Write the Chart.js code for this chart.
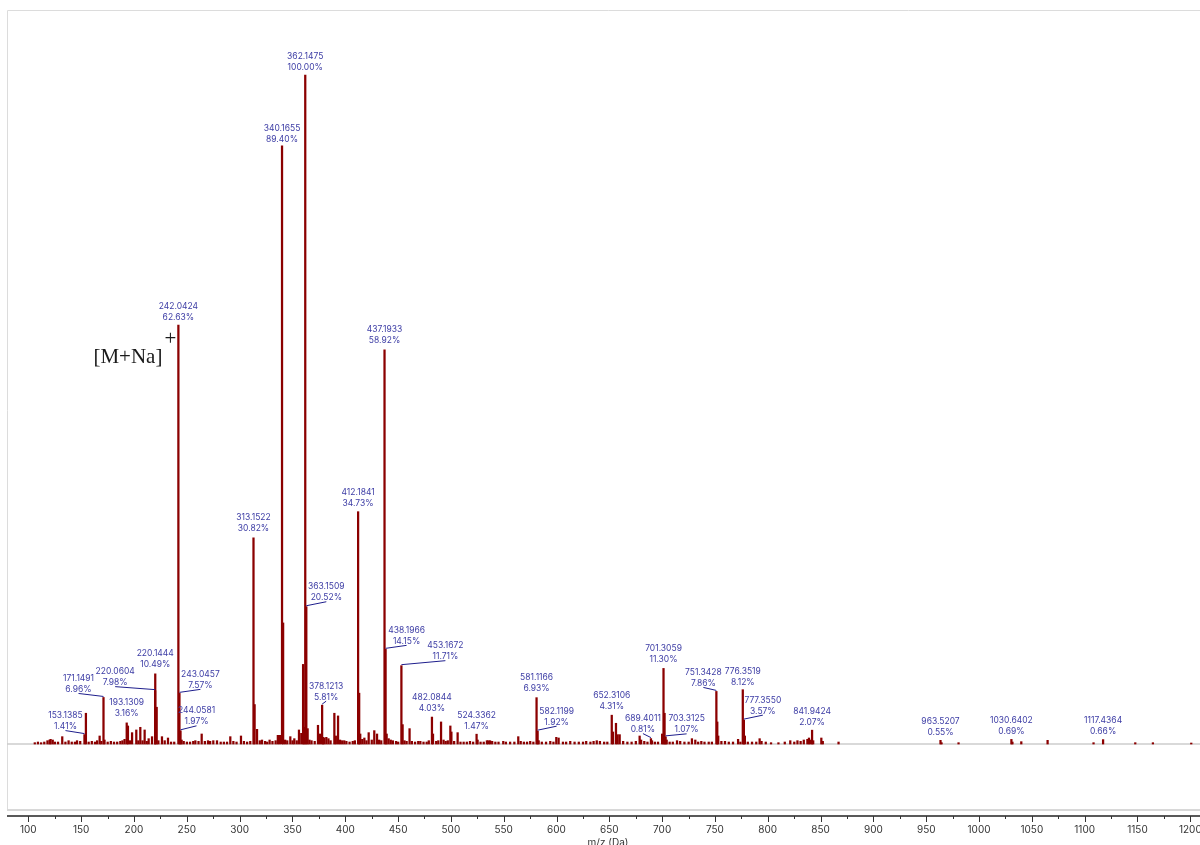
<!DOCTYPE html>
<html>
<head>
<meta charset="utf-8">
<title>Mass spectrum</title>
<script src="https://cdn.jsdelivr.net/npm/chart.js@4.4.1/dist/chart.umd.min.js"></script>
<style>
  html, body { margin: 0; padding: 0; background: #fff; overflow: hidden; }
  canvas { display: block; }
</style>
</head>
<body>
<canvas id="spectrum" width="1216" height="845"></canvas>
<script>
// labelled peaks: m/z and relative intensity (%)
const peakMz = [153.1385, 171.1491, 193.1309, 220.0604, 220.1444, 242.0424, 243.0457, 244.0581,
    313.1522, 340.1655, 362.1475, 363.1509, 378.1213, 412.1841, 437.1933, 438.1966,
    453.1672, 482.0844, 524.3362, 581.1166, 582.1199, 652.3106, 689.4011, 701.3059,
    703.3125, 751.3428, 776.3519, 777.3550, 841.9424, 963.5207, 1030.6402, 1117.4364];
const peakPct = [1.41, 6.96, 3.16, 7.98, 10.49, 62.63, 7.57, 1.97,
    30.82, 89.40, 100.00, 20.52, 5.81, 34.73, 58.92, 14.15,
    11.71, 4.03, 1.47, 6.93, 1.92, 4.31, 0.81, 11.30,
    1.07, 7.86, 8.12, 3.57, 2.07, 0.55, 0.69, 0.66];

// unlabelled peaks
const minorMz = [106.1, 109.1, 112.1, 115.1, 118.1, 120.1, 121.1, 123.1, 125.1, 128.1, 132.1, 135.1,
    138.1, 141.1, 144.1, 146.1, 149.1, 154.5, 157.1, 160.1, 163.1, 165.1, 167.5, 169.1,
    172.1, 175.1, 178.1, 181.1, 184.1, 187.1, 189.1, 191.1, 194.3, 196.1, 198.2, 202.2,
    204.1, 206.0, 208.1, 210.1, 212.1, 213.9, 217.1, 221.5, 223.1, 226.5, 229.1, 232.2,
    235.1, 238.1, 245.1, 247.1, 250.1, 253.1, 256.1, 258.1, 261.1, 264.1, 267.1, 270.1,
    272.1, 275.1, 278.6, 282.1, 285.1, 288.1, 291.2, 294.1, 297.1, 301.3, 304.1, 307.1,
    310.1, 314.2, 316.5, 319.1, 321.2, 324.1, 326.1, 328.4, 331.1, 334.1, 336.2, 338.1,
    341.2, 343.1, 345.1, 348.0, 350.1, 351.8, 354.1, 356.2, 358.4, 360.1, 361.1, 364.4,
    366.1, 368.1, 371.1, 374.2, 376.1, 379.1, 380.1, 382.1, 384.1, 386.1, 389.7, 391.1,
    393.2, 395.1, 397.1, 399.1, 401.1, 404.1, 407.1, 409.1, 413.2, 414.2, 416.1, 418.1,
    420.1, 422.2, 425.1, 427.5, 430.1, 432.1, 434.1, 439.2, 441.1, 443.1, 445.1, 448.1,
    450.1, 454.3, 456.1, 458.1, 460.9, 463.1, 466.1, 469.1, 471.1, 474.1, 477.1, 479.1,
    483.1, 486.1, 488.1, 490.7, 493.1, 495.1, 497.1, 499.5, 500.5, 503.1, 506.4, 509.1,
    512.1, 515.1, 518.1, 521.1, 525.3, 528.1, 531.1, 534.1, 535.5, 537.1, 539.1, 542.1,
    545.1, 549.6, 552.1, 556.1, 560.1, 563.8, 566.1, 569.1, 572.1, 575.1, 578.1, 583.1,
    586.1, 590.1, 594.1, 597.1, 599.8, 602.0, 606.1, 609.1, 613.0, 617.1, 621.1, 625.1,
    628.1, 632.1, 635.1, 638.1, 641.1, 645.1, 648.1, 653.5, 656.3, 657.9, 659.8, 663.1,
    667.1, 671.1, 675.1, 678.7, 680.1, 683.1, 686.1, 690.4, 693.1, 696.1, 700.0, 702.3,
    704.3, 707.1, 710.1, 714.1, 717.1, 721.1, 725.1, 728.2, 731.4, 734.1, 737.1, 740.1,
    744.1, 747.1, 752.2, 753.1, 756.1, 759.5, 763.1, 767.1, 771.9, 774.1, 778.3, 781.1,
    785.1, 789.1, 792.3, 794.1, 798.1, 803.1, 810.1, 816.1, 821.3, 825.1, 828.1, 831.1,
    834.1, 837.5, 839.0, 840.5, 843.0, 850.7, 852.1, 867.0, 964.5, 980.6, 1031.6, 1040.0,
    1064.9, 1108.4, 1147.9, 1164.6, 1200.9];
const minorPct = [0.2, 0.3, 0.2, 0.3, 0.5, 0.6, 0.7, 0.6, 0.3, 0.3, 1.1, 0.3,
    0.5, 0.3, 0.3, 0.5, 0.4, 4.6, 0.3, 0.4, 0.3, 0.5, 1.2, 0.4,
    0.6, 0.3, 0.4, 0.3, 0.3, 0.4, 0.5, 0.7, 2.7, 0.5, 1.7, 2.1,
    0.5, 2.5, 0.5, 2.1, 0.4, 0.8, 1.1, 5.5, 0.5, 1.1, 0.5, 0.9,
    0.3, 0.3, 0.6, 0.4, 0.3, 0.3, 0.4, 0.5, 0.4, 1.5, 0.4, 0.5,
    0.4, 0.5, 0.5, 0.3, 0.3, 0.3, 1.1, 0.4, 0.3, 1.2, 0.4, 0.3,
    0.4, 5.9, 2.2, 0.5, 0.6, 0.4, 0.3, 0.6, 0.4, 0.5, 1.3, 1.3,
    18.1, 0.6, 0.5, 1.1, 0.5, 0.8, 0.5, 2.1, 1.6, 11.9, 2.5, 2.3,
    0.6, 0.5, 0.4, 2.8, 1.5, 1.0, 0.9, 1.0, 0.8, 0.5, 4.6, 1.2,
    4.2, 0.6, 0.5, 0.5, 0.4, 0.3, 0.4, 0.5, 7.6, 1.5, 0.7, 0.9,
    0.5, 1.7, 0.6, 2.0, 1.5, 0.6, 0.5, 1.5, 0.8, 0.6, 0.5, 0.4,
    0.3, 2.9, 0.5, 0.4, 2.3, 0.4, 0.3, 0.4, 0.4, 0.3, 0.3, 0.5,
    1.5, 0.4, 0.5, 3.3, 0.6, 0.4, 0.5, 2.7, 1.8, 0.4, 1.7, 0.3,
    0.3, 0.3, 0.4, 0.3, 0.6, 0.3, 0.3, 0.5, 0.5, 0.5, 0.4, 0.3,
    0.3, 0.4, 0.3, 0.3, 0.3, 1.1, 0.4, 0.3, 0.3, 0.4, 0.3, 0.5,
    0.3, 0.3, 0.4, 0.3, 1.0, 0.9, 0.3, 0.3, 0.4, 0.3, 0.3, 0.3,
    0.4, 0.3, 0.4, 0.5, 0.4, 0.3, 0.3, 1.8, 3.1, 1.4, 1.4, 0.4,
    0.3, 0.3, 0.4, 1.2, 0.6, 0.4, 0.3, 0.5, 0.3, 0.3, 1.5, 4.6,
    0.6, 0.3, 0.3, 0.5, 0.4, 0.3, 0.3, 0.8, 0.6, 0.3, 0.4, 0.3,
    0.3, 0.3, 3.3, 1.2, 0.4, 0.4, 0.3, 0.3, 0.7, 0.3, 1.2, 0.3,
    0.3, 0.3, 0.8, 0.4, 0.3, 0.2, 0.2, 0.3, 0.5, 0.3, 0.5, 0.4,
    0.6, 0.7, 0.9, 0.6, 0.5, 0.9, 0.4, 0.3, 0.2, 0.2, 0.3, 0.35,
    0.55, 0.2, 0.2, 0.2, 0.15];

// x axis tick labels (m/z)
const tickLabels = [100, 150, 200, 250, 300, 350, 400, 450, 500, 550, 600, 650,
    700, 750, 800, 850, 900, 950, 1000, 1050, 1100, 1150, 1200];

// where each peak label sits relative to its peak top, px [dx, dy]
const labelOffsets = [[-19, 8], [-25, 8], [0, 9], [-40, 8], [0, 9], [0, 8], [21, 8], [16, 9],
    [0, 9], [0, 7], [0, 8], [20, 9], [4, 8], [0, 8], [0, 9], [21, 8],
    [44, 9], [0, 9], [0, 8], [0, 9], [19, 9], [0, 9], [-8, 9], [0, 9],
    [21, 7], [-13, 8], [0, 7], [19, 9], [0, 8], [0, 8], [0, 8], [0, 8]];

const barColor = "#8b0000";
const labelColor = "#3d3da5";
const leaderColor = "#1e1e8c";

const spectrumDecor = {
    id: "spectrumDecor",
    beforeDatasetsDraw(chart) {
        const { ctx, chartArea: a, scales: { y } } = chart;
        ctx.save();
        //frame round the plot
        ctx.strokeStyle = "#dcdcdc";
        ctx.lineWidth = 1;
        ctx.beginPath();
        ctx.moveTo(a.left + 0.5, a.bottom - 6);
        ctx.lineTo(a.left + 0.5, a.top + 0.5);
        ctx.lineTo(a.right, a.top + 0.5);
        ctx.stroke();
        ctx.strokeStyle = "#d8d8d8";
        ctx.lineWidth = 2;
        ctx.beginPath();
        ctx.moveTo(a.left, a.bottom - 6);
        ctx.lineTo(a.right, a.bottom - 6);
        ctx.stroke();
        //zero line
        const y0 = y.getPixelForValue(0);
        ctx.strokeStyle = "#cccccc";
        ctx.lineWidth = 1.5;
        ctx.beginPath();
        ctx.moveTo(a.left, y0);
        ctx.lineTo(a.right, y0);
        ctx.stroke();
        ctx.restore();
    },
    afterDatasetsDraw(chart) {
        const { ctx, chartArea: a, scales: { x, y } } = chart;
        ctx.save();

        //peak labels with leader lines
        ctx.font = "8.5px Inter";
        ctx.textAlign = "center";
        ctx.textBaseline = "middle";
        peakMz.forEach((mz, i) => {
            const px = x.getPixelForValue(mz);
            const top = y.getPixelForValue(peakPct[i]);
            const [dx, dy] = labelOffsets[i];
            const lx = px + dx;
            const y2 = top - dy;
            ctx.fillStyle = labelColor;
            ctx.fillText(mz.toFixed(4), lx, y2 - 11);
            ctx.fillText(peakPct[i].toFixed(2) + "%", lx, y2);
            if (dx !== 0) {
                ctx.strokeStyle = leaderColor;
                ctx.lineWidth = 1;
                ctx.beginPath();
                ctx.moveTo(lx, y2 + 4);
                ctx.lineTo(px, top - 1);
                ctx.stroke();
            }
        });

        //[M+Na]+ note beside the 242 peak
        const mx = x.getPixelForValue(peakMz[5]);
        const mt = y.getPixelForValue(peakPct[5]);
        ctx.fillStyle = "#1a1a1a";
        ctx.font = '21px "Liberation Serif"';
        ctx.textBaseline = "alphabetic";
        ctx.textAlign = "right";
        ctx.fillText("[M+Na]", mx - 16, mt + 38);
        ctx.textAlign = "center";
        ctx.fillText("+", mx - 8, mt + 20);

        //x axis
        ctx.strokeStyle = "#222";
        ctx.lineWidth = 1.5;
        ctx.beginPath();
        ctx.moveTo(a.left, a.bottom);
        ctx.lineTo(a.right, a.bottom);
        ctx.stroke();
        ctx.lineWidth = 1;
        ctx.strokeStyle = "#333";
        for (let v = tickLabels[0]; v <= x.max; v += 25) {
            const px = Math.round(x.getPixelForValue(v)) + 0.5;
            const len = v % 50 === 0 ? 6 : 3;
            ctx.beginPath();
            ctx.moveTo(px, a.bottom);
            ctx.lineTo(px, a.bottom + len);
            ctx.stroke();
        }
        ctx.fillStyle = "#333";
        ctx.font = "10px Inter";
        ctx.textAlign = "center";
        ctx.textBaseline = "middle";
        tickLabels.forEach((v) => {
            ctx.fillText(String(v), x.getPixelForValue(v), a.bottom + 14);
        });
        ctx.fillText("m/z (Da)", (a.left + a.right) / 2, a.bottom + 27);
        ctx.restore();
    },
};

const bars = peakMz.map((mz, i) => ({ x: mz, y: peakPct[i] }))
    .concat(minorMz.map((mz, i) => ({ x: mz, y: minorPct[i] })))
    .sort((p, q) => p.x - q.x);

new Chart(document.getElementById("spectrum"), {
    type: "bar",
    data: {
        datasets: [
            {
                label: "Relative intensity (%)",
                data: bars,
                backgroundColor: barColor,
                borderWidth: 0,
                barThickness: 1.6,
            },
        ],
    },
    options: {
        responsive: false,
        animation: false,
        layout: { padding: { left: 7, top: 10, right: 7, bottom: 29 } },
        plugins: { legend: { display: false }, tooltip: { enabled: false } },
        scales: {
            x: { type: "linear", offset: false, min: 79.8, max: 1217.7, display: false },
            y: { min: -10.76, max: 109.72, display: false },
        },
    },
    plugins: [spectrumDecor],
});
</script>
</body>
</html>
